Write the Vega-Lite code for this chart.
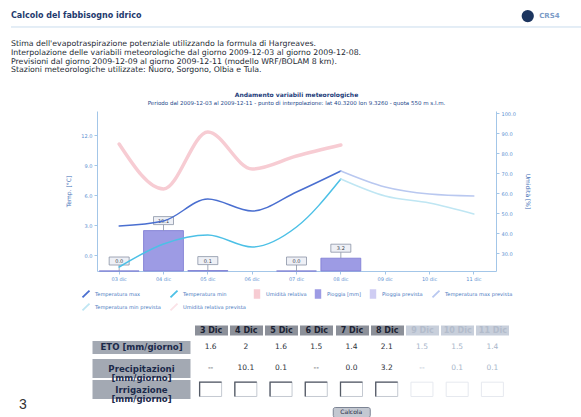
{
  "$schema": "https://vega.github.io/schema/vega-lite/v6.json",
  "background": "white",
  "padding": {"left": 10, "top": 9, "right": 0, "bottom": 0},
  "config": {
    "font": "DejaVu Sans",
    "view": {"stroke": null},
    "axis": {"grid": false},
    "legend": {"gridAlign": "none", "layout": {"bottom": {"anchor": "middle"}}}
  },
  "datasets": {
    "intestazione": [
      {"riga": 1, "testo": "Stima dell'evapotraspirazione potenziale utilizzando la formula di Hargreaves."},
      {"riga": 2, "testo": "Interpolazione delle variabili meteorologiche dal giorno 2009-12-03 al giorno 2009-12-08."},
      {"riga": 3, "testo": "Previsioni dal giorno 2009-12-09 al giorno 2009-12-11 (modello WRF/BOLAM 8 km)."},
      {"riga": 4, "testo": "Stazioni meteorologiche utilizzate: Nuoro, Sorgono, Olbia e Tula."}
    ],
    "temperature": [
      {"giorno": "03 dic", "serie": "Temperatura max", "valore": 2.9},
      {"giorno": "04 dic", "serie": "Temperatura max", "valore": 3.4},
      {"giorno": "05 dic", "serie": "Temperatura max", "valore": 5.6},
      {"giorno": "06 dic", "serie": "Temperatura max", "valore": 4.4},
      {"giorno": "07 dic", "serie": "Temperatura max", "valore": 6.3},
      {"giorno": "08 dic", "serie": "Temperatura max", "valore": 8.4},
      {"giorno": "08 dic", "serie": "Temperatura max prevista", "valore": 8.4},
      {"giorno": "09 dic", "serie": "Temperatura max prevista", "valore": 6.8},
      {"giorno": "10 dic", "serie": "Temperatura max prevista", "valore": 6.1},
      {"giorno": "11 dic", "serie": "Temperatura max prevista", "valore": 5.9},
      {"giorno": "03 dic", "serie": "Temperatura min", "valore": -1.2},
      {"giorno": "04 dic", "serie": "Temperatura min", "valore": 1.1},
      {"giorno": "05 dic", "serie": "Temperatura min", "valore": 2.0},
      {"giorno": "06 dic", "serie": "Temperatura min", "valore": 0.8},
      {"giorno": "07 dic", "serie": "Temperatura min", "valore": 2.8},
      {"giorno": "08 dic", "serie": "Temperatura min", "valore": 7.6},
      {"giorno": "08 dic", "serie": "Temperatura min prevista", "valore": 7.6},
      {"giorno": "09 dic", "serie": "Temperatura min prevista", "valore": 5.9},
      {"giorno": "10 dic", "serie": "Temperatura min prevista", "valore": 5.2},
      {"giorno": "11 dic", "serie": "Temperatura min prevista", "valore": 4.1}
    ],
    "umidita": [
      {"giorno": "03 dic", "serie": "Umidità relativa", "valore": 84.5},
      {"giorno": "04 dic", "serie": "Umidità relativa", "valore": 62},
      {"giorno": "05 dic", "serie": "Umidità relativa", "valore": 90.5},
      {"giorno": "06 dic", "serie": "Umidità relativa", "valore": 72},
      {"giorno": "07 dic", "serie": "Umidità relativa", "valore": 78.5},
      {"giorno": "08 dic", "serie": "Umidità relativa", "valore": 84}
    ],
    "pioggia": [
      {"giorno": "03 dic", "serie": "Pioggia [mm]", "mm": 0.0},
      {"giorno": "04 dic", "serie": "Pioggia [mm]", "mm": 10.1},
      {"giorno": "05 dic", "serie": "Pioggia [mm]", "mm": 0.1},
      {"giorno": "07 dic", "serie": "Pioggia [mm]", "mm": 0.0},
      {"giorno": "08 dic", "serie": "Pioggia [mm]", "mm": 3.2}
    ],
    "tabella": [
      {"giorno": "3 Dic", "riga": "ETO [mm/giorno]", "testo": "1.6", "prev": false},
      {"giorno": "4 Dic", "riga": "ETO [mm/giorno]", "testo": "2", "prev": false},
      {"giorno": "5 Dic", "riga": "ETO [mm/giorno]", "testo": "1.6", "prev": false},
      {"giorno": "6 Dic", "riga": "ETO [mm/giorno]", "testo": "1.5", "prev": false},
      {"giorno": "7 Dic", "riga": "ETO [mm/giorno]", "testo": "1.4", "prev": false},
      {"giorno": "8 Dic", "riga": "ETO [mm/giorno]", "testo": "2.1", "prev": false},
      {"giorno": "9 Dic", "riga": "ETO [mm/giorno]", "testo": "1.5", "prev": true},
      {"giorno": "10 Dic", "riga": "ETO [mm/giorno]", "testo": "1.5", "prev": true},
      {"giorno": "11 Dic", "riga": "ETO [mm/giorno]", "testo": "1.4", "prev": true},
      {"giorno": "3 Dic", "riga": "Precipitazioni|[mm/giorno]", "testo": "--", "prev": false},
      {"giorno": "4 Dic", "riga": "Precipitazioni|[mm/giorno]", "testo": "10.1", "prev": false},
      {"giorno": "5 Dic", "riga": "Precipitazioni|[mm/giorno]", "testo": "0.1", "prev": false},
      {"giorno": "6 Dic", "riga": "Precipitazioni|[mm/giorno]", "testo": "--", "prev": false},
      {"giorno": "7 Dic", "riga": "Precipitazioni|[mm/giorno]", "testo": "0.0", "prev": false},
      {"giorno": "8 Dic", "riga": "Precipitazioni|[mm/giorno]", "testo": "3.2", "prev": false},
      {"giorno": "9 Dic", "riga": "Precipitazioni|[mm/giorno]", "testo": "--", "prev": true},
      {"giorno": "10 Dic", "riga": "Precipitazioni|[mm/giorno]", "testo": "0.1", "prev": true},
      {"giorno": "11 Dic", "riga": "Precipitazioni|[mm/giorno]", "testo": "0.1", "prev": true},
      {"giorno": "3 Dic", "riga": "Irrigazione|[mm/giorno]", "testo": "", "prev": false},
      {"giorno": "4 Dic", "riga": "Irrigazione|[mm/giorno]", "testo": "", "prev": false},
      {"giorno": "5 Dic", "riga": "Irrigazione|[mm/giorno]", "testo": "", "prev": false},
      {"giorno": "6 Dic", "riga": "Irrigazione|[mm/giorno]", "testo": "", "prev": false},
      {"giorno": "7 Dic", "riga": "Irrigazione|[mm/giorno]", "testo": "", "prev": false},
      {"giorno": "8 Dic", "riga": "Irrigazione|[mm/giorno]", "testo": "", "prev": false},
      {"giorno": "9 Dic", "riga": "Irrigazione|[mm/giorno]", "testo": "", "prev": true},
      {"giorno": "10 Dic", "riga": "Irrigazione|[mm/giorno]", "testo": "", "prev": true},
      {"giorno": "11 Dic", "riga": "Irrigazione|[mm/giorno]", "testo": "", "prev": true}
    ]
  },
  "spacing": 12,
  "resolve": {"scale": {"color": "independent"}, "legend": {"color": "independent"}},
  "vconcat": [
    {
      "width": 571,
      "height": 69,
      "layer": [
        {
          "data": {"values": [{}]},
          "mark": {"type": "rule", "color": "#c9dced", "strokeWidth": 1},
          "encoding": {"y": {"datum": -1, "type": "quantitative", "scale": {"domain": [-2.96, 5.0], "reverse": true, "nice": false, "zero": false}, "axis": null}}
        },
        {
          "data": {"values": [{"titolo": "Calcolo del fabbisogno idrico"}]},
          "mark": {"type": "text", "align": "left", "baseline": "middle", "fontSize": 8, "fontWeight": "bold", "color": "#1e3a6e"},
          "encoding": {
            "x": {"datum": 0, "type": "quantitative", "scale": {"domain": [0, 1], "nice": false, "zero": false}, "axis": null},
            "y": {"datum": -2.32, "type": "quantitative", "scale": {"domain": [-2.96, 5.0], "reverse": true, "nice": false, "zero": false}, "axis": null},
            "text": {"field": "titolo"}
          }
        },
        {
          "data": {"name": "intestazione"},
          "mark": {"type": "text", "align": "left", "baseline": "middle", "fontSize": 7.8, "color": "#252a34"},
          "encoding": {
            "x": {"datum": 0, "type": "quantitative", "scale": {"domain": [0, 1], "nice": false, "zero": false}, "axis": null},
            "y": {"field": "riga", "type": "quantitative", "scale": {"domain": [-2.96, 5.0], "reverse": true, "nice": false, "zero": false}, "axis": null},
            "text": {"field": "testo"}
          }
        },
        {
          "data": {"values": [{}]},
          "mark": {"type": "point", "filled": true, "size": 150, "color": "#1c355f", "opacity": 1},
          "encoding": {
            "x": {"datum": 0.905, "type": "quantitative", "scale": {"domain": [0, 1], "nice": false, "zero": false}, "axis": null},
            "y": {"datum": -2.26, "type": "quantitative", "scale": {"domain": [-2.96, 5.0], "reverse": true, "nice": false, "zero": false}, "axis": null}
          }
        },
        {
          "data": {"values": [{"logo": "CRS4"}]},
          "mark": {"type": "text", "align": "left", "baseline": "middle", "fontSize": 7, "fontWeight": "bold", "color": "#7d9cc8"},
          "encoding": {
            "x": {"datum": 0.925, "type": "quantitative", "scale": {"domain": [0, 1], "nice": false, "zero": false}, "axis": null},
            "y": {"datum": -2.26, "type": "quantitative", "scale": {"domain": [-2.96, 5.0], "reverse": true, "nice": false, "zero": false}, "axis": null},
            "text": {"field": "logo"}
          }
        }
      ]
    },
    {
      "spacing": -7,
      "resolve": {"scale": {"color": "independent"}, "legend": {"color": "independent"}},
      "vconcat": [
        {
          "spacing": 53,
          "resolve": {"scale": {"color": "independent"}, "legend": {"color": "independent"}},
          "hconcat": [
            {
              "width": 1,
              "height": 1,
              "data": {"values": []},
              "mark": "point"
            },
            {
              "width": 399,
              "height": 160,
              "title": {"text": "Andamento variabili meteorologiche", "subtitle": "Periodo dal 2009-12-03 al 2009-12-11 - punto di interpolazione: lat 40.3200 lon 9.3260 - quota 550 m s.l.m.", "anchor": "middle", "frame": "group", "fontSize": 6, "fontWeight": "bold", "color": "#1d3d7a", "subtitleFontSize": 5.5, "subtitleColor": "#24488a", "subtitlePadding": 3, "offset": 5},
              "encoding": {
                "x": {
                  "field": "giorno", "type": "ordinal",
                  "scale": {"domain": ["03 dic", "04 dic", "05 dic", "06 dic", "07 dic", "08 dic", "09 dic", "10 dic", "11 dic"], "paddingInner": 0.1, "paddingOuter": 0.05},
                  "axis": {"title": null, "labelAngle": 0, "labelFontSize": 5, "labelColor": "#5b8fd1", "domainColor": "#a3c6e8", "tickColor": "#a3c6e8", "tickSize": 3, "labelPadding": 2}
                }
              },
              "layer": [
                {
                  "data": {"name": "umidita"},
                  "mark": {"type": "line", "interpolate": "monotone", "strokeWidth": 3.5, "strokeCap": "round"},
                  "encoding": {
                    "y": {"field": "valore", "type": "quantitative", "scale": {"domain": [21, 101], "nice": false, "zero": false},
                      "axis": {"orient": "right", "values": [30, 40, 50, 60, 70, 80, 90, 100], "format": ".1f", "title": "Umidità [%]", "labelFontSize": 5, "labelColor": "#5b8fd1", "domainColor": "#a3c6e8", "tickColor": "#a3c6e8", "tickSize": 3, "labelPadding": 2, "titleFontSize": 6, "titleFontWeight": "normal", "titleColor": "#3d6cb5", "titlePadding": 9}},
                    "color": {
                      "field": "serie", "type": "nominal",
                      "scale": {
                        "domain": ["Temperatura max", "Temperatura min", "Umidità relativa", "Pioggia [mm]", "Pioggia prevista", "Temperatura max prevista", "Temperatura min prevista", "Umidità relativa prevista"],
                        "range": ["#4a6fd0", "#4cc0e6", "#f7ccd3", "#9d9be4", "#cfcdf3", "#b9c8f0", "#bfe6f3", "#fbe2e7"]
                      },
                      "legend": {
                        "orient": "bottom", "direction": "horizontal", "columns": 6, "gridAlign": "none", "offset": 8,
                        "title": null, "labelFontSize": 5.1, "labelColor": "#4a78c0", "labelLimit": 200, "columnPadding": 5, "rowPadding": -3,
                        "symbolSize": 60, "labelOffset": 4, "padding": 0,
                        "encode": {
                          "symbols": {
                            "update": {
                              "shape": {"signal": "indexof(['Umidità relativa','Pioggia [mm]','Pioggia prevista'], datum.value) >= 0 ? 'M-0.6,-1L0.6,-1L0.6,1L-0.6,1Z' : 'M-0.9,0.9L0.9,-0.9'"},
                              "fill": {"signal": "indexof(['Umidità relativa','Pioggia [mm]','Pioggia prevista'], datum.value) >= 0 ? scale('color', datum.value) : 'transparent'"},
                              "stroke": {"scale": "color", "field": "value"},
                              "strokeWidth": {"value": 1.8},
                              "opacity": {"value": 1}
                            }
                          }
                        }
                      }
                    }
                  }
                },
                {
                  "data": {"name": "pioggia"},
                  "layer": [
                    {
                      "mark": {"type": "bar", "stroke": "#7b79d2", "strokeWidth": 0.8},
                      "encoding": {
                        "y": {"field": "mm", "type": "quantitative", "scale": {"domain": [0, 40], "nice": false}, "axis": null},
                        "color": {"field": "serie", "type": "nominal", "scale": {"domain": ["Temperatura max", "Temperatura min", "Umidità relativa", "Pioggia [mm]", "Pioggia prevista", "Temperatura max prevista", "Temperatura min prevista", "Umidità relativa prevista"], "range": ["#4a6fd0", "#4cc0e6", "#f7ccd3", "#9d9be4", "#cfcdf3", "#b9c8f0", "#bfe6f3", "#fbe2e7"]}}
                      }
                    },
                    {
                      "mark": {"type": "rule", "color": "#8a93a6", "strokeWidth": 0.8, "y2Offset": -6},
                      "encoding": {"y": {"field": "mm", "type": "quantitative"}, "y2": {"field": "mm"}}
                    },
                    {
                      "mark": {"type": "point", "shape": "M-1,-0.4L1,-0.4L1,0.4L-1,0.4Z", "size": 400, "filled": true, "fill": "#eef0f6", "stroke": "#8a93a6", "strokeWidth": 0.8, "opacity": 1, "yOffset": -10},
                      "encoding": {"y": {"field": "mm", "type": "quantitative"}}
                    },
                    {
                      "mark": {"type": "text", "fontSize": 5, "color": "#3a3f4a", "yOffset": -10, "baseline": "middle"},
                      "encoding": {"y": {"field": "mm", "type": "quantitative"}, "text": {"field": "mm", "format": ".1f"}}
                    }
                  ]
                },
                {
                  "data": {"name": "temperature"},
                  "mark": {"type": "line", "interpolate": "monotone", "strokeWidth": 1.5, "strokeCap": "round"},
                  "encoding": {
                    "y": {"field": "valore", "type": "quantitative", "scale": {"domain": [-1.6, 14.4], "nice": false, "zero": false},
                      "axis": {"orient": "left", "values": [0, 3, 6, 9, 12], "format": ".1f", "title": "Temp. [°C]", "labelFontSize": 5, "labelColor": "#5b8fd1", "domainColor": "#a3c6e8", "tickColor": "#a3c6e8", "tickSize": 3, "labelPadding": 2, "titleFontSize": 6, "titleFontWeight": "normal", "titleColor": "#3d6cb5", "titlePadding": 9}},
                    "color": {"field": "serie", "type": "nominal", "scale": {"domain": ["Temperatura max", "Temperatura min", "Umidità relativa", "Pioggia [mm]", "Pioggia prevista", "Temperatura max prevista", "Temperatura min prevista", "Umidità relativa prevista"], "range": ["#4a6fd0", "#4cc0e6", "#f7ccd3", "#9d9be4", "#cfcdf3", "#b9c8f0", "#bfe6f3", "#fbe2e7"]}}
                  }
                }
              ],
              "resolve": {"scale": {"y": "independent"}}
            }
          ]
        },
        {
          "spacing": 47,
          "resolve": {"scale": {"color": "independent"}, "legend": {"color": "independent"}},
          "hconcat": [
            {
              "width": 24,
              "height": 76,
              "data": {"values": [{"etichetta": "3"}]},
              "mark": {"type": "text", "baseline": "bottom", "fontSize": 14, "font": "Liberation Sans", "color": "#333333"},
              "encoding": {
                "text": {"field": "etichetta"},
                "y": {"datum": 0, "type": "quantitative", "scale": {"domain": [0, 1]}, "axis": null}
              }
            },
            {
              "spacing": 3,
              "center": true,
              "resolve": {"scale": {"color": "independent"}, "legend": {"color": "independent"}},
              "vconcat": [
                {
                  "width": 317,
                  "height": 64,
                  "data": {"name": "tabella"},
                  "encoding": {
                    "x": {
                      "field": "giorno", "type": "ordinal",
                      "scale": {"domain": ["3 Dic", "4 Dic", "5 Dic", "6 Dic", "7 Dic", "8 Dic", "9 Dic", "10 Dic", "11 Dic"], "paddingInner": 0, "paddingOuter": 0},
                      "axis": {
                        "orient": "top", "title": null, "domain": false, "labelAngle": 0, "tickSize": 10, "tickWidth": 33,
                        "tickColor": {"condition": {"test": "indexof(['9 Dic','10 Dic','11 Dic'], datum.value) >= 0", "value": "#c8cfdb"}, "value": "#8c9099"},
                        "labelColor": {"condition": {"test": "indexof(['9 Dic','10 Dic','11 Dic'], datum.value) >= 0", "value": "#b3bccb"}, "value": "#1b2233"},
                        "labelFontSize": 8, "labelFontWeight": "bold", "labelBaseline": "middle", "labelPadding": -5, "offset": 1
                      }
                    },
                    "y": {
                      "field": "riga", "type": "nominal",
                      "scale": {"domain": ["ETO [mm/giorno]", "Precipitazioni|[mm/giorno]", "Irrigazione|[mm/giorno]"], "paddingInner": 0, "paddingOuter": 0},
                      "axis": {
                        "orient": "left", "title": null, "domain": false, "tickSize": 98,
                        "tickWidth": {"condition": {"test": "datum.value == 'ETO [mm/giorno]'", "value": 13}, "value": 19},
                        "tickColor": "#a3a9b3", "labelAlign": "center", "labelBaseline": "middle", "labelPadding": -49,
                        "labelExpr": "split(datum.label, '|')", "labelFontSize": 8.6, "labelFontWeight": "bold", "labelColor": "#1b2a4a",
                        "labelLineHeight": 9, "offset": 3, "labelLimit": 200
                      }
                    }
                  },
                  "layer": [
                    {
                      "transform": [{"filter": "datum.riga != 'Irrigazione|[mm/giorno]'"}],
                      "mark": {"type": "text", "fontSize": 7.5, "baseline": "middle"},
                      "encoding": {
                        "text": {"field": "testo"},
                        "color": {"condition": {"test": "datum.prev", "value": "#a8b6ca"}, "value": "#2c313b"}
                      }
                    },
                    {
                      "transform": [{"filter": "datum.riga == 'Irrigazione|[mm/giorno]'"}],
                      "mark": {"type": "point", "shape": "M-1,-0.65L1,-0.65L1,0.65L-1,0.65Z", "size": 484, "filled": true, "fill": "#ffffff", "strokeWidth": 1, "opacity": 1},
                      "encoding": {
                        "stroke": {"condition": {"test": "datum.prev", "value": "#e6e9ef"}, "value": "#c4c9d1"}
                      }
                    },
                    {
                      "transform": [{"filter": "datum.riga == 'Irrigazione|[mm/giorno]' && !datum.prev"}],
                      "mark": {"type": "point", "shape": "M-1,0.65L-1,-0.65L1,-0.65", "size": 484, "filled": false, "stroke": "#555b66", "strokeWidth": 1.3, "opacity": 1}
                    }
                  ]
                },
                {
                  "width": 37,
                  "height": 10,
                  "view": {"fill": "#c3c8d1", "stroke": "#7c8494", "cornerRadius": 2},
                  "data": {"values": [{"etichetta": "Calcola"}]},
                  "mark": {"type": "text", "fontSize": 6, "color": "#1c2740", "baseline": "middle"},
                  "encoding": {"text": {"field": "etichetta"}}
                }
              ]
            }
          ]
        }
      ]
    }
  ]
}
